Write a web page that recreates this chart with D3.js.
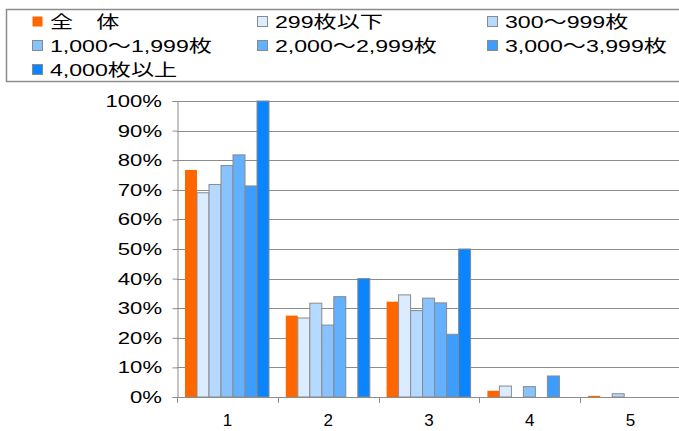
<!DOCTYPE html>
<html>
<head>
<meta charset="utf-8">
<script src="https://cdn.jsdelivr.net/npm/d3@7"></script>
<style>
  body { margin: 0; background: #fff; }
  svg { display: block; }
</style>
</head>
<body>
<svg id="chart" width="679" height="431"></svg>
<script>
// Data
const categories = ["1", "2", "3", "4", "5"];
const seriesNames = ["全\u3000体", "299枚以下", "300～999枚", "1,000～1,999枚", "2,000～2,999枚", "3,000～3,999枚", "4,000枚以上"];
const seriesValues = [
  [76.7, 27.5, 32.2, 2.1, 0.4],
  [69.0, 26.7, 34.5, 3.7, 0],
  [71.8, 31.7, 29.2, 0, 1.1],
  [78.2, 24.3, 33.4, 3.5, 0],
  [81.8, 33.9, 31.8, 0, 0],
  [71.3, 0, 21.2, 7.1, 0],
  [100, 40, 50, 0, 0]
];
const yTicks = [0, 10, 20, 30, 40, 50, 60, 70, 80, 90, 100];

const colors = ["#ff6600", "#dcecff", "#b5d9ff", "#88c2ff", "#63b0ff", "#3d9dff", "#0a84ff"];
const fontFamily = "'Liberation Sans', Arial, 'Noto Sans CJK JP', sans-serif";
const stretch = 1.3;        // axis text in the reference is drawn wide
const legendStretch = 1.36; // legend text slightly wider still

const svg = d3.select("#chart");

// Plot area
const plotLeft = 177, plotRight = 681, plotTop = 101, plotBottom = 397;

const x0 = d3.scaleBand().domain(categories).range([plotLeft, plotRight]);
const x1 = d3.scaleBand().domain(d3.range(seriesNames.length)).range([8, 92]);
const y = d3.scaleLinear().domain([0, 100]).range([plotBottom, plotTop]);

// Gridlines
svg.append("g")
  .selectAll("line")
  .data(yTicks)
  .join("line")
  .attr("x1", plotLeft)
  .attr("x2", 679)
  .attr("y1", d => Math.round(y(d)) + 0.5)
  .attr("y2", d => Math.round(y(d)) + 0.5)
  .attr("stroke", "#8c8c8c")
  .attr("stroke-width", 1);

// Bars
const groups = svg.append("g")
  .selectAll("g")
  .data(categories)
  .join("g")
  .attr("transform", d => `translate(${x0(d)},0)`);

groups.selectAll("rect")
  .data((c, ci) => seriesValues.map((vals, si) => ({ si, v: vals[ci] })).filter(d => d.v > 0))
  .join("rect")
  .attr("x", d => x1(d.si))
  .attr("y", d => y(d.v))
  .attr("width", x1.bandwidth())
  .attr("height", d => plotBottom - y(d.v))
  .attr("fill", d => colors[d.si])
  .attr("stroke", d => d.si === 0 ? "none" : "#8a8a8a")
  .attr("stroke-width", 1);

// Y axis
const yAxis = svg.append("g")
  .attr("transform", `translate(${plotLeft + 0.5},0)`)
  .call(d3.axisLeft(y).tickValues(yTicks).tickSize(5).tickPadding(14).tickFormat(d => d + "%"));
yAxis.select(".domain").attr("stroke", "#8c8c8c");
yAxis.selectAll(".tick line").attr("stroke", "#8c8c8c");
yAxis.selectAll(".tick text")
  .attr("font-family", fontFamily)
  .attr("font-size", 17)
  .attr("fill", "#000")
  .attr("x", -15.5 / stretch)
  .attr("transform", `scale(${stretch},1)`);

// X axis
const xAxis = svg.append("g")
  .attr("transform", `translate(0,${plotBottom + 0.5})`)
  .call(d3.axisBottom(x0).tickSize(0).tickPadding(14));
xAxis.select(".domain").remove();
xAxis.selectAll(".tick text")
  .attr("font-family", fontFamily)
  .attr("font-size", 17)
  .attr("fill", "#000")
  .attr("dy", "0.85em");

// Category boundary ticks
svg.append("g")
  .selectAll("line")
  .data(categories.concat([null]))
  .join("line")
  .attr("x1", (d, i) => Math.round(plotLeft + i * x0.bandwidth()) + 0.5)
  .attr("x2", (d, i) => Math.round(plotLeft + i * x0.bandwidth()) + 0.5)
  .attr("y1", plotBottom)
  .attr("y2", plotBottom + 6)
  .attr("stroke", "#8c8c8c");

// Legend
svg.append("rect")
  .attr("x", 6.5)
  .attr("y", 9.5)
  .attr("width", 690)
  .attr("height", 72)
  .attr("fill", "#fff")
  .attr("stroke", "#8c8c8c")
  .attr("stroke-width", 1.5);

const legendCols = [32, 257, 487];
const legendRows = [22, 46, 70];

const legend = svg.append("g")
  .selectAll("g")
  .data(seriesNames)
  .join("g")
  .attr("transform", (d, i) => `translate(${legendCols[i % 3]},${legendRows[Math.floor(i / 3)]})`);

legend.append("rect")
  .attr("x", 0.5)
  .attr("y", -5.5)
  .attr("width", 10)
  .attr("height", 10)
  .attr("fill", (d, i) => colors[i])
  .attr("stroke", (d, i) => i === 0 ? "none" : "#8a8a8a");

legend.append("text")
  .attr("x", 18 / legendStretch)
  .attr("y", 0)
  .attr("dy", "0.36em")
  .attr("transform", `scale(${legendStretch},1)`)
  .attr("font-family", fontFamily)
  .attr("font-size", 17)
  .attr("fill", "#000")
  .text(d => d);
</script>
</body>
</html>
